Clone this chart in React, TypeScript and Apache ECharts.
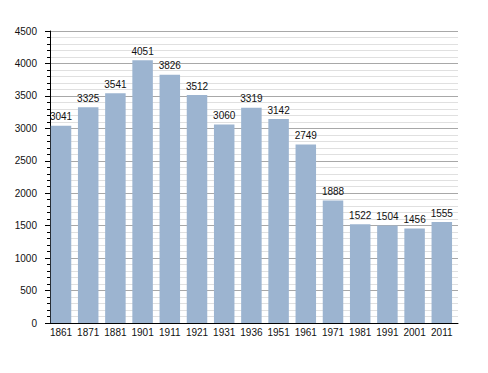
import React, { useEffect, useRef } from "react";
import * as echarts from "echarts";

const categories = ["1861", "1871", "1881", "1901", "1911", "1921", "1931", "1936", "1951", "1961", "1971", "1981", "1991", "2001", "2011"];
const population = [3041, 3325, 3541, 4051, 3826, 3512, 3060, 3319, 3142, 2749, 1888, 1522, 1504, 1456, 1555];

const FONT = "'Liberation Sans', Arial, sans-serif";

export default function App() {
  const ref = useRef<HTMLDivElement>(null);
  useEffect(() => {
    if (!ref.current) return;
    const chart = echarts.init(ref.current, undefined, { renderer: "svg" });
    chart.setOption({
      animation: false,
      backgroundColor: "#ffffff",
      grid: [
        { left: 50, right: 30, top: 31, bottom: 50 },
        { left: 47.4, right: 32.6, top: 31, bottom: 50 },
      ],
      xAxis: [
        {
          gridIndex: 0,
          type: "value",
          min: 0,
          max: 1,
          axisLine: { show: true, onZero: false, lineStyle: { color: "#000", width: 1 } },
          axisTick: { show: false },
          axisLabel: { show: false },
          splitLine: { show: false },
        },
        {
          gridIndex: 1,
          type: "category",
          data: categories,
          axisLine: { show: false },
          axisTick: { show: false },
          axisLabel: { color: "#111", fontFamily: FONT, fontSize: 10, margin: 4, interval: 0 },
        },
      ],
      yAxis: [
        {
          gridIndex: 0,
          type: "value",
          min: 0,
          max: 4500,
          interval: 500,
          axisLine: { show: true, lineStyle: { color: "#000", width: 1 } },
          axisTick: { show: true, inside: false, length: 5, lineStyle: { color: "#000" } },
          minorTick: { show: true, splitNumber: 5, length: 3, lineStyle: { color: "#000" } },
          axisLabel: {
            color: "#111",
            fontFamily: FONT,
            fontSize: 10,
            margin: 13,
            formatter: (v: number) => String(v),
          },
          splitLine: { show: true, lineStyle: { color: "#a8a8a8", width: 1 } },
          minorSplitLine: { show: true, lineStyle: { color: "#e0e0e0", width: 1 } },
        },
        {
          gridIndex: 1,
          type: "value",
          min: 0,
          max: 4500,
          show: false,
          splitLine: { show: false },
        },
      ],
      series: [
        {
          type: "bar",
          xAxisIndex: 1,
          yAxisIndex: 1,
          data: population,
          barWidth: 20.5,
          itemStyle: { color: "#9cb4d0" },
          label: {
            show: true,
            position: "top",
            distance: 4,
            color: "#111",
            fontFamily: FONT,
            fontSize: 10,
          },
        },
      ],
    });
    return () => chart.dispose();
  }, []);
  return <div ref={ref} style={{ width: 488, height: 373, position: "absolute", left: 0, top: 0 }} />;
}
